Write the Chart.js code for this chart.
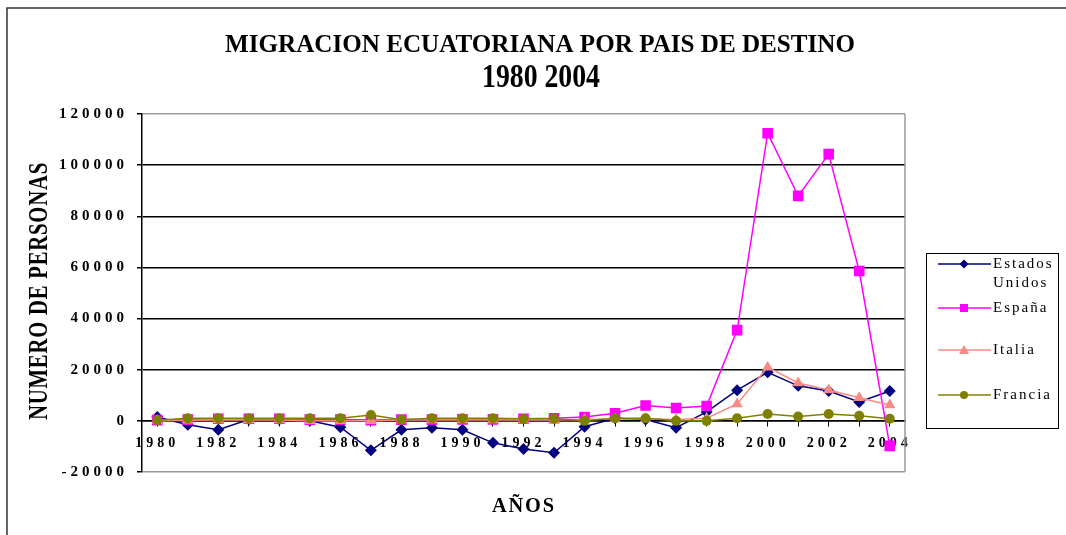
<!DOCTYPE html>
<html>
<head>
<meta charset="utf-8">
<title>Migracion ecuatoriana por pais de destino</title>
<script src="https://cdn.jsdelivr.net/npm/chart.js@4/dist/chart.umd.min.js"></script>
<style>
  body { margin: 0; background: #fff; }
  #wrap { width: 1066px; height: 535px; }
</style>
</head>
<body>
<div id="wrap"><canvas id="migChart" width="1066" height="535"></canvas></div>
<script>
// data
var years = ['1980', '1981', '1982', '1983', '1984', '1985', '1986', '1987', '1988', '1989',
    '1990', '1991', '1992', '1993', '1994', '1995', '1996', '1997', '1998', '1999',
    '2000', '2001', '2002', '2003', '2004'];
var estadosUnidos = [1500, -1500, -3500, 500, 500, 0, -2500, -11500, -3500, -2700,
    -3500, -8600, -11000, -12500, -2300, 1000, 500, -2700, 3500, 12000,
    19000, 13700, 11700, 7400, 11700];
var espana = [300, 500, 800, 800, 800, 500, 500, 300, 500, 500,
    600, 600, 800, 1000, 1500, 3000, 6000, 5000, 5800, 35500,
    112500, 88000, 104300, 58600, -9800];
var italia = [0, 200, 300, 300, 300, 0, 0, 0, 300, 300,
    300, 300, 300, 300, 500, 700, 800, 500, 1000, 6600,
    21000, 14800, 12100, 9000, 6200];
var francia = [200, 1000, 1000, 1000, 1000, 1000, 1000, 2300, 400, 1000,
    1000, 1000, 800, 800, 0, 1000, 1000, 0, 0, 1000,
    2700, 1700, 2700, 2000, 800];
var yTicks = [-20000, 0, 20000, 40000, 60000, 80000, 100000, 120000];

var serif = "'Liberation Serif', 'DejaVu Serif', serif";

// draw a text squeezed/stretched to a given width
function drawFitted(ctx, text, font, x, y, w, spacing, rotate) {
    ctx.save();
    ctx.font = font;
    ctx.letterSpacing = spacing || '0px';
    var m = ctx.measureText(text).width;
    ctx.translate(x, y);
    if (rotate) ctx.rotate(-Math.PI / 2);
    ctx.scale(w / m, 1);
    ctx.textAlign = 'center';
    ctx.textBaseline = 'alphabetic';
    ctx.fillStyle = '#000';
    ctx.fillText(text, 0, 0);
    ctx.restore();
}

function drawMarker(ctx, style, x, y, r, color) {
    ctx.save();
    ctx.fillStyle = color;
    ctx.beginPath();
    if (style === 'rectRot') {
        ctx.moveTo(x, y - r); ctx.lineTo(x + r, y); ctx.lineTo(x, y + r); ctx.lineTo(x - r, y);
    } else if (style === 'rect') {
        ctx.rect(x - r, y - r, 2 * r, 2 * r);
    } else if (style === 'triangle') {
        ctx.moveTo(x, y - r); ctx.lineTo(x + r, y + r * 0.8); ctx.lineTo(x - r, y + r * 0.8);
    } else {
        ctx.arc(x, y, r, 0, Math.PI * 2);
    }
    ctx.closePath();
    ctx.fill();
    ctx.restore();
}

var sheetPlugin = {
    id: 'sheet',
    beforeDraw: function (chart) {
        var ctx = chart.ctx;
        ctx.save();
        ctx.fillStyle = '#fff';
        ctx.fillRect(0, 0, chart.width, chart.height);
        ctx.restore();
        // spaced-out digits on both axes
        ctx.letterSpacing = '4px';
    },
    beforeDatasetsDraw: function (chart) {
        var a = chart.chartArea, ctx = chart.ctx;
        ctx.save();
        ctx.strokeStyle = '#9a9a9a';
        ctx.lineWidth = 1.5;
        ctx.beginPath();
        ctx.moveTo(a.right, a.top);
        ctx.lineTo(a.right, a.bottom);
        ctx.stroke();
        ctx.restore();
    },
    afterDraw: function (chart) {
        var ctx = chart.ctx;
        ctx.letterSpacing = '0px';

        // outer frame (top and left only are visible)
        ctx.save();
        ctx.strokeStyle = '#333';
        ctx.lineWidth = 1.5;
        ctx.beginPath();
        ctx.moveTo(1066, 8);
        ctx.lineTo(7, 8);
        ctx.lineTo(7, 535);
        ctx.stroke();
        ctx.restore();

        drawFitted(ctx, 'MIGRACION ECUATORIANA POR PAIS DE DESTINO', 'bold 26px ' + serif, 540, 52, 630);
        drawFitted(ctx, '1980 2004', 'bold 33px ' + serif, 541, 87, 118);
        drawFitted(ctx, 'NUMERO DE PERSONAS', 'bold 27px ' + serif, 47, 291, 258, '1px', true);
        drawFitted(ctx, 'AÑOS', 'bold 22px ' + serif, 524, 512, 64, '2px');

        // legend
        ctx.save();
        ctx.strokeStyle = '#000';
        ctx.lineWidth = 1;
        ctx.strokeRect(926.5, 253.5, 132, 175);
        var rows = [
            { lines: ['Estados', 'Unidos'], y: 264 },
            { lines: ['España'], y: 308 },
            { lines: ['Italia'], y: 350 },
            { lines: ['Francia'], y: 395 }
        ];
        var sizes = { rectRot: 4.5, rect: 4, triangle: 5, circle: 4 };
        chart.data.datasets.forEach(function (ds, i) {
            var row = rows[i];
            ctx.strokeStyle = ds.borderColor;
            ctx.lineWidth = 1.5;
            ctx.beginPath();
            ctx.moveTo(938, row.y);
            ctx.lineTo(991, row.y);
            ctx.stroke();
            drawMarker(ctx, ds.pointStyle, 964, row.y, sizes[ds.pointStyle], ds.pointBackgroundColor);
            ctx.font = '15px ' + serif;
            ctx.letterSpacing = '2px';
            ctx.fillStyle = '#000';
            ctx.textAlign = 'left';
            ctx.textBaseline = 'middle';
            row.lines.forEach(function (t, k) {
                ctx.fillText(t, 993, row.y + k * 19);
            });
        });
        ctx.restore();
    }
};

function lineSet(label, data, color, style, radius, order) {
    return {
        label: label,
        data: data,
        borderColor: color,
        backgroundColor: color,
        pointBackgroundColor: color,
        pointBorderColor: color,
        pointStyle: style,
        pointRadius: radius,
        pointBorderWidth: 0,
        borderWidth: 1.5,
        tension: 0,
        order: order
    };
}

var ctx = document.getElementById('migChart').getContext('2d');
var migChart = new Chart(ctx, {
    type: 'line',
    data: {
        labels: years,
        datasets: [
            lineSet('Estados Unidos', estadosUnidos, '#000080', 'rectRot', 6, 4),
            lineSet('España', espana, '#ff00ff', 'rect', 7.5, 3),
            lineSet('Italia', italia, '#f88a84', 'triangle', 6.5, 2),
            lineSet('Francia', francia, '#808000', 'circle', 5, 1)
        ]
    },
    options: {
        responsive: false,
        animation: false,
        layout: { padding: { left: 0, top: 114, right: 161, bottom: 63 } },
        plugins: {
            legend: { display: false },
            title: { display: false },
            tooltip: { enabled: false }
        },
        scales: {
            x: {
                type: 'category',
                offset: true,
                position: { y: 0 },
                grid: {
                    drawOnChartArea: false,
                    tickLength: 5,
                    color: '#000'
                },
                border: { color: '#000', width: 1.5 },
                ticks: {
                    autoSkip: false,
                    maxRotation: 0,
                    padding: 9,
                    color: '#000',
                    font: { family: serif, size: 14, weight: 'bold' },
                    callback: function (val, i) {
                        return i % 2 === 0 ? this.getLabelForValue(val) : '';
                    }
                }
            },
            y: {
                min: yTicks[0],
                max: yTicks[yTicks.length - 1],
                afterFit: function (scale) { scale.width = 142; },
                afterBuildTicks: function (scale) {
                    scale.ticks = yTicks.map(function (v) { return { value: v }; });
                },
                grid: {
                    tickLength: 5,
                    lineWidth: 1.5,
                    color: function (c) {
                        var v = c.tick && c.tick.value;
                        return (v === yTicks[0] || v === yTicks[yTicks.length - 1]) ? '#9a9a9a' : '#000';
                    },
                    tickColor: '#000'
                },
                border: { color: '#000', width: 1.5 },
                ticks: {
                    padding: 9,
                    color: '#000',
                    font: { family: serif, size: 15, weight: 'bold' },
                    callback: function (v) { return String(v); }
                }
            }
        }
    },
    plugins: [sheetPlugin]
});
</script>
</body>
</html>
